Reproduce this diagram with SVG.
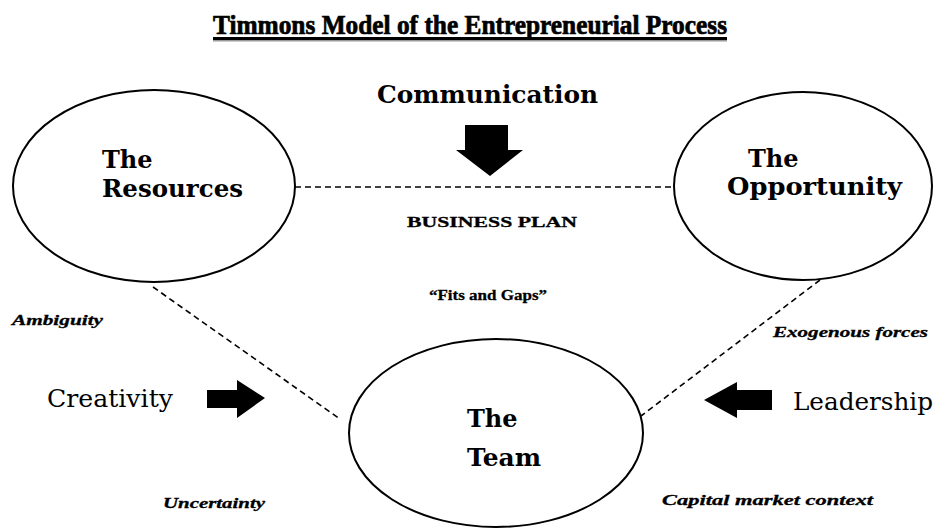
<svg xmlns="http://www.w3.org/2000/svg" width="938" height="529" viewBox="0 0 938 529">
  <style>
    .node { fill: #fff; stroke: #000; stroke-width: 2; }
    .lbl { font-family: "DejaVu Serif", "Liberation Serif", serif; font-weight: bold; font-size: 24px; fill: #000; }
    .title { font-family: "Liberation Serif", "DejaVu Serif", serif; font-weight: bold; font-size: 27px; fill: #000; stroke: #000; stroke-width: 0.7; }
    .small { font-family: "Liberation Serif", "DejaVu Serif", serif; font-weight: bold; font-size: 15px; fill: #000; stroke: #000; stroke-width: 0.3; }
    .ital { font-family: "Liberation Serif", "DejaVu Serif", serif; font-weight: bold; font-style: italic; font-size: 15px; fill: #000; stroke: #000; stroke-width: 0.3; }
    .force { font-family: "DejaVu Serif", "Liberation Serif", serif; font-size: 25px; fill: #000; }
    .dash { fill: none; stroke: #000; stroke-width: 1.6; stroke-dasharray: 6 4; }
    .arrow { fill: #000; }
  </style>

  <rect width="938" height="529" fill="#fff"/>

  <!-- title -->
  <g id="title">
    <text class="title" x="213" y="34" textLength="514" lengthAdjust="spacingAndGlyphs">Timmons Model of the Entrepreneurial Process</text>
    <rect x="213" y="37" width="514" height="3" fill="#000"/>
    <rect x="213" y="40" width="514" height="1.5" fill="#999"/>
  </g>

  <!-- dashed links between the three elements -->
  <g id="connectors">
    <line class="dash" x1="295" y1="187" x2="673" y2="187"/>
    <line class="dash" x1="153" y1="287" x2="340" y2="419"/>
    <line class="dash" x1="820" y1="280" x2="641" y2="416"/>
  </g>

  <g id="resources">
    <ellipse class="node" cx="154" cy="186" rx="141" ry="96"/>
    <text class="lbl" x="102" y="168">The</text>
    <text class="lbl" x="102" y="197" textLength="141" lengthAdjust="spacingAndGlyphs">Resources</text>
  </g>

  <g id="opportunity">
    <ellipse class="node" cx="803" cy="186" rx="129" ry="94"/>
    <text class="lbl" x="748" y="167">The</text>
    <text class="lbl" x="727" y="195" textLength="175" lengthAdjust="spacingAndGlyphs">Opportunity</text>
  </g>

  <g id="team">
    <ellipse class="node" cx="496" cy="433" rx="147" ry="94"/>
    <text class="lbl" x="467" y="427">The</text>
    <text class="lbl" x="467" y="466" textLength="74" lengthAdjust="spacingAndGlyphs">Team</text>
  </g>

  <!-- communication -->
  <g id="communication">
    <text class="lbl" x="377" y="103" textLength="221" lengthAdjust="spacingAndGlyphs">Communication</text>
    <polygon class="arrow" points="465,125 508,125 508,150 523,150 490,176 456,150 465,150"/>
  </g>

  <g id="business-plan">
    <text class="small" x="407" y="227" textLength="170" lengthAdjust="spacingAndGlyphs">BUSINESS PLAN</text>
    <text class="small" x="429" y="300" textLength="118" lengthAdjust="spacingAndGlyphs">“Fits and Gaps”</text>
  </g>

  <!-- creativity -->
  <g id="creativity">
    <text class="force" x="47" y="407" textLength="126" lengthAdjust="spacingAndGlyphs">Creativity</text>
    <polygon class="arrow" points="207,390 237,390 237,380 265,398 237,418 237,408 207,408"/>
  </g>

  <!-- leadership -->
  <g id="leadership">
    <text class="force" x="793" y="410" textLength="140" lengthAdjust="spacingAndGlyphs">Leadership</text>
    <polygon class="arrow" points="772,390 737,390 737,382 704,400 737,418 737,410 772,410"/>
  </g>

  <!-- context factors -->
  <g id="context">
    <text class="ital" x="12" y="325" textLength="91" lengthAdjust="spacingAndGlyphs">Ambiguity</text>
    <text class="ital" x="163" y="508" textLength="102" lengthAdjust="spacingAndGlyphs">Uncertainty</text>
    <text class="ital" x="773" y="337" textLength="155" lengthAdjust="spacingAndGlyphs">Exogenous forces</text>
    <text class="ital" x="662" y="505" textLength="211" lengthAdjust="spacingAndGlyphs">Capital  market context</text>
  </g>
</svg>
